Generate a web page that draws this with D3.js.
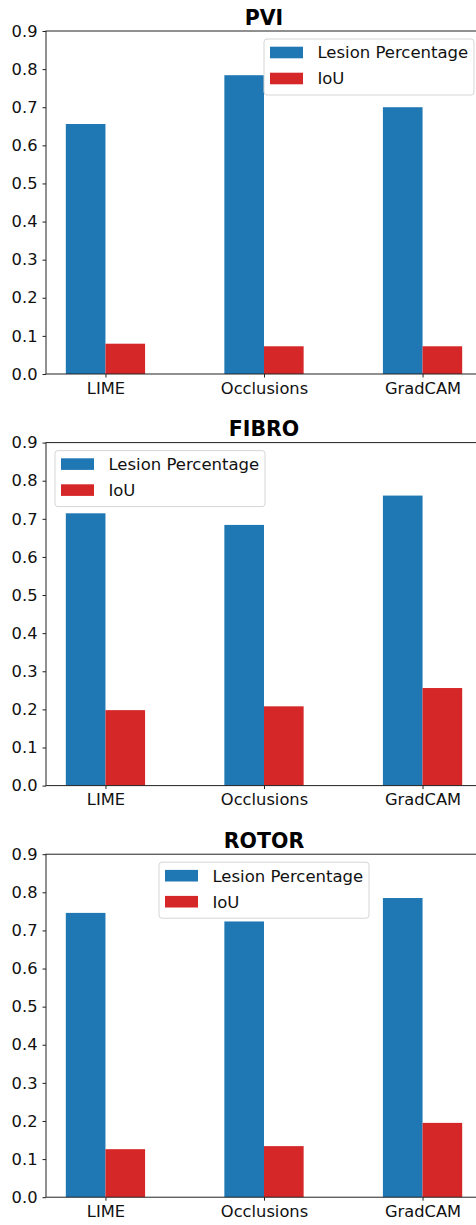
<!DOCTYPE html>
<html>
<head>
<meta charset="utf-8">
<script src="https://cdn.jsdelivr.net/npm/d3@7/dist/d3.min.js"></script>
<style>
  body { margin: 0; background: #fff; }
  svg { display: block; font-family: "DejaVu Sans", sans-serif; }
</style>
</head>
<body>
<div id="chart"></div>
<script>
// data
const methods = ['LIME', 'Occlusions', 'GradCAM'];
const titles = ['PVI', 'FIBRO', 'ROTOR'];
const seriesNames = ['Lesion Percentage', 'IoU'];
const lesionPvi = [0.656, 0.784, 0.700];
const iouPvi = [0.0795, 0.0727, 0.0727];
const lesionFibro = [0.7145, 0.684, 0.761];
const iouFibro = [0.198, 0.208, 0.256];
const lesionRotor = [0.746, 0.7235, 0.785];
const iouRotor = [0.126, 0.134, 0.195];
const yTicks = [0, 0.1, 0.2, 0.3, 0.4, 0.5, 0.6, 0.7, 0.8, 0.9];
const legendLocs = ['upper right', 'upper left', 'upper center'];

const panels = [
  { title: titles[0], lesion: lesionPvi, iou: iouPvi, loc: legendLocs[0] },
  { title: titles[1], lesion: lesionFibro, iou: iouFibro, loc: legendLocs[1] },
  { title: titles[2], lesion: lesionRotor, iou: iouRotor, loc: legendLocs[2] }
];

const colors = ['#1f77b4', '#d62728'];
const W = 476, H = 1225;
const margin = { left: 46, right: 482 };
const panelTop = 31, panelStep = 411.6, panelH = 343;
const barW = 0.25;

const svg = d3.select('#chart').append('svg')
  .attr('width', W)
  .attr('height', H);

// x is shared: bar groups at 0,1,2 with matplotlib-like margins
const x = d3.scaleLinear().domain([-0.375, 2.375]).range([margin.left, margin.right]);

panels.forEach((p, i) => {
  const top = panelTop + i * panelStep;
  const bottom = top + panelH;
  const y = d3.scaleLinear().domain([0, 0.9]).range([bottom, top]);
  const g = svg.append('g');

  // bars
  [p.lesion, p.iou].forEach((vals, s) => {
    g.selectAll(null)
      .data(vals)
      .enter().append('rect')
      .attr('x', (d, k) => x(k + (s === 0 ? -barW : 0)))
      .attr('width', x(barW) - x(0))
      .attr('y', (d) => y(d))
      .attr('height', (d) => y(0) - y(d))
      .attr('fill', colors[s]);
  });

  // axes
  const yAxis = g.append('g')
    .attr('transform', `translate(${margin.left},0)`)
    .call(d3.axisLeft(y).tickValues(yTicks).tickFormat(d3.format('.1f')).tickSize(3.5).tickPadding(5));
  const xAxis = g.append('g')
    .attr('transform', `translate(0,${bottom})`)
    .call(d3.axisBottom(x).tickValues([0, 1, 2]).tickFormat((d) => methods[d]).tickSize(3.5).tickPadding(4.5));
  [yAxis, xAxis].forEach((a) => {
    a.select('.domain').remove();
    a.selectAll('text').attr('font-size', 16.3).attr('font-family', '"DejaVu Sans", sans-serif').attr('fill', '#111');
    a.selectAll('line').attr('stroke', '#222').attr('stroke-width', 1);
  });

  // frame (right spine falls outside the canvas)
  g.append('rect')
    .attr('x', margin.left)
    .attr('y', top)
    .attr('width', margin.right - margin.left)
    .attr('height', panelH)
    .attr('fill', 'none')
    .attr('stroke', '#222')
    .attr('stroke-width', 1);

  // title
  g.append('text')
    .attr('x', (margin.left + margin.right) / 2)
    .attr('y', top - 6.5)
    .attr('text-anchor', 'middle')
    .attr('font-size', 20.5)
    .attr('font-weight', 'bold')
    .text(p.title);

  // legend
  const lw = 210, lh = 56, pad = 8;
  let lx;
  if (p.loc === 'upper right') lx = margin.right - pad - lw;
  else if (p.loc === 'upper left') lx = margin.left + pad + 1;
  else lx = (margin.left + margin.right) / 2 - lw / 2;
  const ly = top + pad;
  const leg = g.append('g').attr('transform', `translate(${lx},${ly})`);
  leg.append('rect')
    .attr('width', lw)
    .attr('height', lh)
    .attr('rx', 3)
    .attr('fill', 'rgba(255,255,255,0.8)')
    .attr('stroke', '#d5d5d5')
    .attr('stroke-width', 1);
  seriesNames.forEach((name, s) => {
    const cy = 13.5 + s * 26;
    leg.append('rect')
      .attr('x', 6)
      .attr('y', cy - 5.8)
      .attr('width', 33)
      .attr('height', 11.6)
      .attr('fill', colors[s]);
    leg.append('text')
      .attr('x', 53.4)
      .attr('y', cy)
      .attr('dy', '0.36em')
      .attr('font-size', 16.5)
      .attr('fill', '#111')
      .text(name);
  });
});
</script>
</body>
</html>
